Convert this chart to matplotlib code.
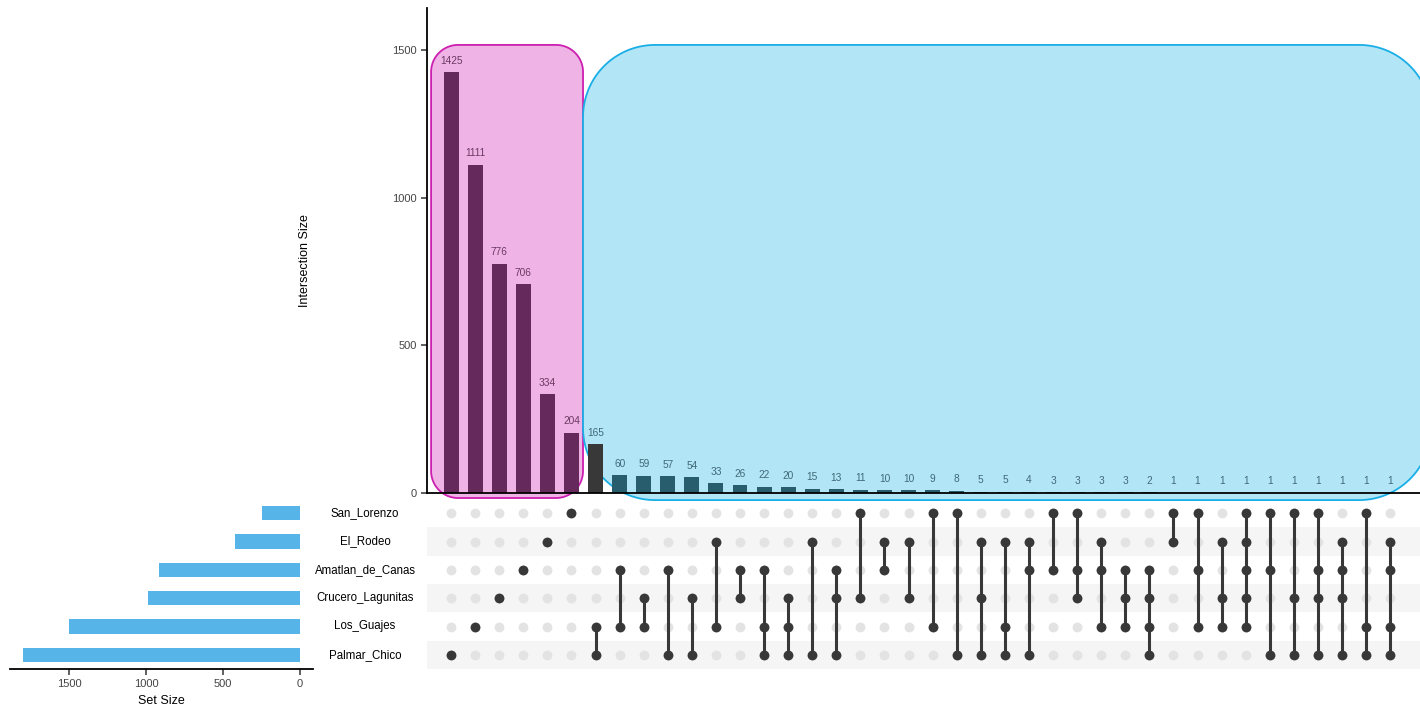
import matplotlib
matplotlib.use("Agg")
import matplotlib.pyplot as plt
from matplotlib.patches import Polygon
from matplotlib.transforms import blended_transform_factory
import numpy as np

plt.rcParams['font.family'] = ['Liberation Sans', 'DejaVu Sans']

# sets, top to bottom in the matrix
sets = ['San_Lorenzo', 'El_Rodeo', 'Amatlan_de_Canas',
        'Crucero_Lagunitas', 'Los_Guajes', 'Palmar_Chico']

# intersection sizes, in plotted order
counts = [1425, 1111, 776, 706, 334, 204, 165, 60, 59, 57, 54, 33, 26, 22, 20,
          15, 13, 11, 10, 10, 9, 8, 5, 5, 4, 3, 3, 3, 3, 2,
          1, 1, 1, 1, 1, 1, 1, 1, 1, 1]

# members of each intersection (row index into sets)
members = [[5], [4], [3], [2], [1], [0],
           [4, 5], [2, 4], [3, 4], [2, 5], [3, 5], [1, 4], [2, 3], [2, 4, 5],
           [3, 4, 5], [1, 5], [2, 3, 5], [0, 3], [1, 2], [1, 3],
           [0, 4], [0, 5], [1, 3, 5], [1, 4, 5], [1, 2, 5], [0, 2], [0, 2, 3],
           [1, 2, 4], [2, 3, 4], [2, 3, 4, 5],
           [0, 1], [0, 2, 4], [1, 3, 4], [0, 1, 2, 3, 4], [0, 2, 5], [0, 3, 5],
           [0, 2, 3, 5], [1, 2, 3, 5], [0, 4, 5], [1, 2, 4, 5]]

# bar colour per intersection: query groups
bar_colors = ['#652a5b'] * 6 + ['#383838'] + ['#285d6e'] * 33
label_colors = ['#6a3a62'] * 6 + ['#3f6878'] * 34

set_sizes = [sum(c for c, m in zip(counts, members) if i in m) for i in range(len(sets))]

W, H = 1420, 709
fig = plt.figure(figsize=(W / 100, H / 100), dpi=100)

def frac(x0, y0, x1, y1):
    return [x0 / W, 1 - y1 / H, (x1 - x0) / W, (y1 - y0) / H]

ax_bar = fig.add_axes(frac(427, 8, 1420, 493))
ax_mat = fig.add_axes(frac(427, 499, 1420, 669))
ax_set = fig.add_axes(frac(10, 499, 313, 669))

n = len(counts)
xs = np.arange(n)
xlim = (-1, 40.24)
ytop = 1642
dark = '#383838'

# intersection bars
ax_bar.bar(xs, counts, width=0.62, color=bar_colors, zorder=2)
for x, c, lc in zip(xs, counts, label_colors):
    ax_bar.text(x, c + 22, str(c), ha='center', va='bottom', fontsize=7.3,
                color=lc, zorder=3)
ax_bar.set_xlim(*xlim)
ax_bar.set_ylim(0, ytop)
ax_bar.set_yticks([0, 500, 1000, 1500])
ax_bar.set_xticks([])
ax_bar.tick_params(axis='y', labelsize=8, colors='#444444', length=4, width=1.2)
for s in ['top', 'right']:
    ax_bar.spines[s].set_visible(False)
for s in ['left', 'bottom']:
    ax_bar.spines[s].set_linewidth(1.3)
    ax_bar.spines[s].set_color('black')
    ax_bar.spines[s].set_zorder(4)
ax_bar.set_ylabel('Intersection Size', fontsize=9)
ax_bar.yaxis.set_label_coords(-0.117, 0.48)

# highlight boxes behind the query bars
fig.canvas.draw()
bb = ax_bar.get_window_extent()
px_x = bb.width / (xlim[1] - xlim[0])
px_y = bb.height / ytop


def rounded_box(x0, x1, y0, y1, rad_px):
    rx, ry = rad_px / px_x, rad_px / px_y
    pts = []
    corners = [(x1 - rx, y1 - ry, 0), (x0 + rx, y1 - ry, 90),
               (x0 + rx, y0 + ry, 180), (x1 - rx, y0 + ry, 270)]
    for cx, cy, a0 in corners:
        t = np.radians(np.linspace(a0, a0 + 90, 30))
        pts += list(zip(cx + rx * np.cos(t), cy + ry * np.sin(t)))
    return np.array(pts)


box_specs = [(-0.83, 5.48, -17, 1517, 27, '#efb3e6', '#cc1fb0'),
             (5.48, 40.7, -24, 1517, 72, '#b2e6f7', '#1aaee6')]
for x0, x1, y0, y1, rad, fc, ec in box_specs:
    ax_bar.add_patch(Polygon(rounded_box(x0, x1, y0, y1, rad), closed=True,
                             facecolor=fc, edgecolor=ec, lw=1.3, zorder=1,
                             clip_on=False))

# matrix
nrows = len(sets)
for r in range(nrows):
    if r % 2 == 1:
        ax_mat.axhspan(r - 0.5, r + 0.5, color='#f5f5f5', lw=0, zorder=0)
gx, gy = np.meshgrid(xs, np.arange(nrows))
ax_mat.scatter(gx.ravel(), gy.ravel(), s=50, color='#e3e3e3', lw=0, zorder=1)
for x, m in zip(xs, members):
    if len(m) > 1:
        ax_mat.plot([x, x], [min(m), max(m)], color=dark, lw=2.2, zorder=2)
    ax_mat.scatter([x] * len(m), m, s=50, color=dark, lw=0, zorder=3)
ax_mat.set_xlim(*xlim)
ax_mat.set_ylim(nrows - 0.5, -0.5)
ax_mat.axis('off')

# set labels
tr = blended_transform_factory(fig.transFigure, ax_mat.transData)
for r, name in enumerate(sets):
    ax_mat.text(365 / W, r, name, transform=tr, ha='center', va='center',
                fontsize=8.3, color='black')

# set sizes
ax_set.barh(np.arange(nrows), set_sizes, height=0.5, color='#56b4e9')
ax_set.set_ylim(nrows - 0.5, -0.5)
ax_set.set_xlim(1883, -84)
ax_set.set_xticks([0, 500, 1000, 1500])
ax_set.set_yticks([])
ax_set.tick_params(axis='x', labelsize=8, colors='#444444', length=4, width=1.2)
for s in ['top', 'right', 'left']:
    ax_set.spines[s].set_visible(False)
ax_set.spines['bottom'].set_linewidth(1.3)
ax_set.set_xlabel('Set Size', fontsize=9, labelpad=4)

fig.savefig('out.png', dpi=100)
